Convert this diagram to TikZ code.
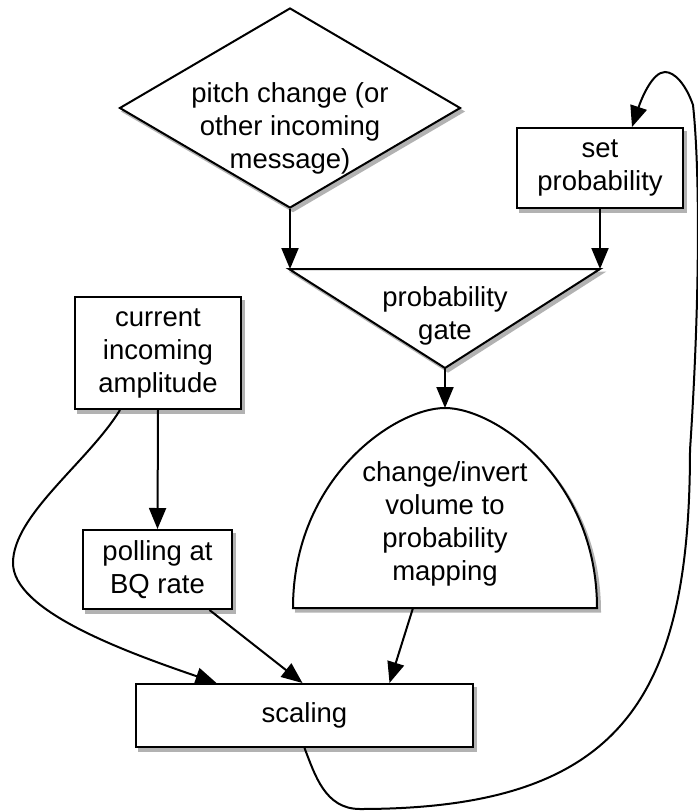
\documentclass[tikz,border=0pt]{standalone}
\usepackage{fontspec}
\setmainfont{Liberation Sans}
\usetikzlibrary{shapes.geometric,arrows.meta}

\tikzset{
 outline/.style={draw, fill=white, line width=2pt,
   preaction={draw=black!30, fill=black!30, line width=2pt, transform canvas={xshift=3pt, yshift=-3.5pt}}},
 block/.style={outline, rectangle, inner sep=0pt, align=center},
 txt/.style={align=center},
 link/.style={->, line width=2pt, >={Triangle[length=21pt,width=17pt]}},
}

\begin{document}
\begin{tikzpicture}[x=1pt, y=1pt, font=\fontsize{27.5}{33}\selectfont]
 \useasboundingbox (0,0) rectangle (697,-812);

 \node[outline, diamond, minimum width=341, minimum height=200] (pitch) at (290,-108) {};
 \node[txt] (pitchtxt) at (290,-128) {pitch change (or\\other incoming\\message)};

 \node[block, minimum width=166, minimum height=80] (setprob) at (600,-168) {set\\probability};

 % probability gate
 \coordinate (gl) at (289,-269);
 \coordinate (gr) at (600,-269);
 \coordinate (gb) at (445,-368);
 \draw[outline, line join=miter] (gl) -- (gr) -- (gb) -- cycle;
 \node[txt] (gate) at (445,-316) {probability\\gate};

 \node[block, minimum width=166, minimum height=112] (amp) at (158,-353) {current\\incoming\\amplitude};
 \node[block, minimum width=149, minimum height=79] (poll) at (157.5,-569.5) {polling at\\BQ rate};

 % mapping dome
 \coordinate (maptop) at (445,-408);
 \coordinate (mapbase) at (445,-608);
 \draw[outline] (293,-608) .. controls (293,-478) and (395,-408) .. (maptop)
   .. controls (495,-408) and (597,-478) .. (597,-608) -- cycle;
 \node[txt] (map) at (445,-524) {change/invert\\volume to\\probability\\mapping};

 \node[block, minimum width=337, minimum height=63] (scaling) at (304.5,-715.5) {scaling};

 \draw[link] (pitch.south) -- (pitch.south |- gl);
 \draw[link] (setprob.south) -- (gr);
 \draw[link] (gb) -- (maptop);
 \draw[link] (amp.south) -- (poll.north);
 \draw[link] ([xshift=52]poll.south) -- ([xshift=-2]scaling.north);
 \draw[link] ([xshift=-32]mapbase) -- ([xshift=85]scaling.north);
 \draw[link] ([xshift=-38]amp.south) .. controls (88,-462) and (13,-515) .. (13,-563)
   .. controls (13,-610) and (120,-650) .. ([xshift=-88]scaling.north);
 \draw[link] (scaling.south) .. controls (315,-775) and (325,-809) .. (360,-809)
   .. controls (620,-809) and (690,-700) .. (690,-450)
   .. controls (700,-300) and (700,-170) .. (693,-105)
   .. controls (686,-85) and (675,-72) .. (665,-72)
   .. controls (652,-72) and (641,-100) .. ([xshift=32]setprob.north);
\end{tikzpicture}
\end{document}
